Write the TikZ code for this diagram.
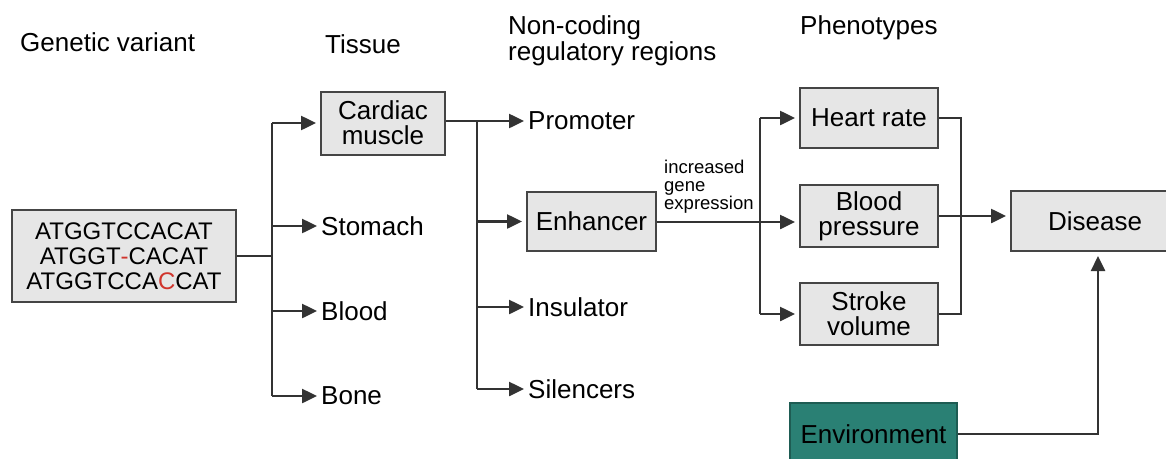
\documentclass[tikz,border=0pt]{standalone}
\usepackage{fontspec}
\setmainfont{Liberation Sans}
\usetikzlibrary{arrows.meta,positioning}
\definecolor{boxfill}{HTML}{E6E6E6}
\definecolor{boxline}{HTML}{454545}
\definecolor{linecol}{HTML}{333333}
\definecolor{envfill}{HTML}{2A8074}
\definecolor{envline}{HTML}{1E5C53}
\definecolor{mutred}{HTML}{D0342C}

\tikzset{
  box/.style={draw=boxline, fill=boxfill, line width=2pt, align=center, inner sep=0pt,
    font=\fontsize{26}{25}\selectfont},
  lbl/.style={anchor=west, inner sep=0pt, align=left, font=\fontsize{26}{26}\selectfont},
  conn/.style={draw=linecol, line width=2.5pt},
  arr/.style={conn, shorten >=4pt, -{Triangle[length=15pt,width=14pt]}}
}

\begin{document}
\begin{tikzpicture}[x=1pt,y=-1pt]
				\clip (0,0) rectangle (1166,458);
				% headings
				\node[lbl] (hvariant) at (20,42) {Genetic variant};
				\node[lbl] (htissue) at (325,44) {Tissue};
				\node[lbl] (hregion) at (508,41) {Non-coding\\regulatory regions};
				\node[lbl] (hpheno) at (800,28) {Phenotypes};
				% genetic variant
				\node[box, minimum width=224pt, minimum height=92pt, font=\fontsize{24}{25}\selectfont] (dna) at (124,256)
					{ATGGTCCACAT\\ATGGT{\color{mutred}-}CACAT\\ATGGTCCA{\color{mutred}C}CAT};
				% tissues
				\node[box, minimum width=124pt, minimum height=63pt] (cardiac) at (383,123) {Cardiac\\muscle};
				\node[lbl] (stomach) at (321,226) {Stomach};
				\node[lbl] (blood) at (321,311) {Blood};
				\node[lbl] (bone) at (321,396) {Bone};
				\coordinate (tj) at (272,256);
				\draw[conn] (dna.east) -- (tj);
				\draw[conn] (tj |- cardiac.west) -- (tj |- bone.west);
				\draw[arr] (tj |- cardiac.west) -- (cardiac.west);
				\draw[arr] (tj |- stomach.west) -- (stomach.west);
				\draw[arr] (tj |- blood.west) -- (blood.west);
				\draw[arr] (tj |- bone.west) -- (bone.west);
				% regulatory regions
				\node[lbl] (promoter) at (528,121) {Promoter};
				\node[box, minimum width=129pt, minimum height=59pt] (enhancer) at (591.5,221.5) {Enhancer};
				\node[lbl] (insulator) at (528,307) {Insulator};
				\node[lbl] (silencer) at (528,389) {Silencers};
				\coordinate (rj) at (477,121);
				\draw[conn] (cardiac.east |- rj) -- (rj) -- (rj |- silencer.west);
				\draw[arr] (rj) -- (promoter.west);
				\draw[arr] (rj |- enhancer.west) -- (enhancer.west);
				\draw[arr] (rj |- insulator.west) -- (insulator.west);
				\draw[arr] (rj |- silencer.west) -- (silencer.west);
				% phenotypes
				\node[box, minimum width=138pt, minimum height=60pt] (heart) at (869,118) {Heart rate};
				\node[box, minimum width=138pt, minimum height=62pt] (pressure) at (869,216) {Blood\\pressure};
				\node[box, minimum width=138pt, minimum height=62pt] (stroke) at (869,314) {Stroke\\volume};
				\coordinate (pj) at (760,222);
				\draw[conn] (enhancer.east |- pj) -- (pj);
				\node[lbl, font=\fontsize{18.5}{18}\selectfont] (expr) at (664,187) {increased\\gene\\expression};
				\draw[conn] (pj |- heart.west) -- (pj |- stroke.west);
				\draw[arr] (pj |- heart.west) -- (heart.west);
				\draw[arr] (pj) -- (pj -| pressure.west);
				\draw[arr] (pj |- stroke.west) -- (stroke.west);
				% disease
				\node[box, minimum width=168pt, minimum height=60pt] (disease) at (1095,221) {Disease};
				\node[box, draw=envline, fill=envfill, minimum width=167pt, minimum height=62pt] (env) at (873.5,434) {Environment};
				\draw[conn] (heart.east) -- ++(22,0) |- (stroke.east);
				\draw[arr] (pressure.east) -- (pressure.east -| disease.west);
				\draw[arr] (env.east) -| ([xshift=3pt]disease.south);
\end{tikzpicture}
\end{document}
